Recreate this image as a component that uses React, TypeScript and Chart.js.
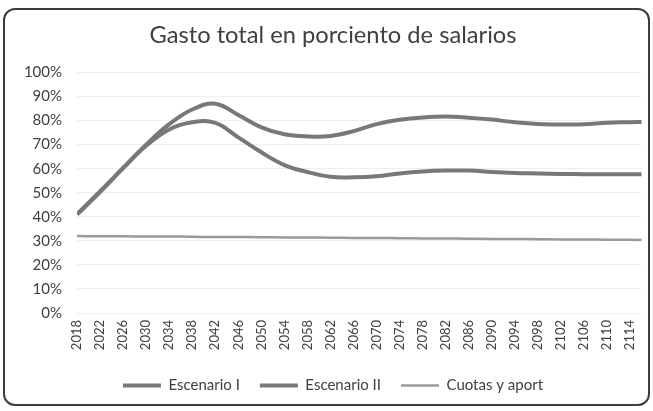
import React, { useEffect, useRef } from "react";
import { Chart, registerables } from "chart.js";

Chart.register(...registerables);

const years = [2018, 2022, 2026, 2030, 2034, 2038, 2042, 2046, 2050, 2054, 2058, 2062, 2066, 2070, 2074, 2078, 2082, 2086, 2090, 2094, 2098, 2102, 2106, 2110, 2114, 2116];
const tickYears = [2018, 2022, 2026, 2030, 2034, 2038, 2042, 2046, 2050, 2054, 2058, 2062, 2066, 2070, 2074, 2078, 2082, 2086, 2090, 2094, 2098, 2102, 2106, 2110, 2114];
const escenarioI = [41, 50.5, 60.3, 70, 78.5, 84.6, 87, 82.3, 77.2, 74.3, 73.4, 73.6, 75.6, 78.5, 80.3, 81.3, 81.7, 81.2, 80.4, 79.3, 78.6, 78.4, 78.5, 79.1, 79.3, 79.4];
const escenarioII = [41, 50.3, 60.2, 69.5, 76.3, 79.3, 79, 73, 66.8, 61.5, 58.6, 56.6, 56.4, 56.8, 58, 58.8, 59.2, 59.2, 58.6, 58.2, 58, 57.8, 57.7, 57.7, 57.7, 57.7];
const cuotas = [32, 31.9, 31.9, 31.8, 31.8, 31.7, 31.6, 31.6, 31.5, 31.4, 31.4, 31.3, 31.2, 31.2, 31.1, 31, 31, 30.9, 30.8, 30.8, 30.7, 30.6, 30.6, 30.5, 30.4, 30.4];
const yTicks = [0, 10, 20, 30, 40, 50, 60, 70, 80, 90, 100];

const FONT = "Lato, 'Noto Sans', sans-serif";

export default function App() {
  const ref = useRef<HTMLCanvasElement | null>(null);
  useEffect(() => {
    if (!ref.current) return;
    const mk = (arr: number[]) => years.map((y, i) => ({ x: y, y: arr[i] }));
    const chart = new Chart(ref.current, {
      type: "line",
      data: {
        datasets: [
          { label: "Escenario I", data: mk(escenarioI), borderColor: "#787878", backgroundColor: "#787878", borderWidth: 4, pointRadius: 0, tension: 0.4, pointStyle: "line" },
          { label: "Escenario II", data: mk(escenarioII), borderColor: "#787878", backgroundColor: "#787878", borderWidth: 4, pointRadius: 0, tension: 0.4, pointStyle: "line" },
          { label: "Cuotas y aport", data: mk(cuotas), borderColor: "#9a9a9a", backgroundColor: "#9a9a9a", borderWidth: 2.5, pointRadius: 0, tension: 0.4, pointStyle: "line" },
        ],
      },
      options: {
        animation: false,
        responsive: false,
        layout: { padding: { top: 11, left: 23, right: 10, bottom: 8 } },
        plugins: {
          title: {
            display: true,
            text: "Gasto total en porciento de salarios",
            color: "#404040",
            font: { family: FONT, size: 23.7, weight: "normal" },
            padding: { top: 10, bottom: 23 },
          },
          legend: {
            position: "bottom",
            labels: {
              usePointStyle: true,
              pointStyleWidth: 38,
              boxHeight: 13,
              color: "#404040",
              font: { family: FONT, size: 15 },
              padding: 20,
            },
          },
          tooltip: { enabled: false },
        },
        scales: {
          x: {
            type: "linear",
            min: 2018,
            max: 2116,
            grid: { display: false, drawTicks: false },
            border: { display: false },
            afterBuildTicks: (s: any) => {
              s.ticks = tickYears.map((v) => ({ value: v }));
            },
            afterFit: (s: any) => {
              s.height = 45;
            },
            ticks: {
              autoSkip: false,
              maxRotation: 90,
              minRotation: 90,
              padding: 7,
              color: "#404040",
              font: { family: FONT, size: 13 },
              callback: (v: any) => String(v),
            },
          },
          y: {
            min: 0,
            max: 100,
            afterBuildTicks: (s: any) => {
              s.ticks = yTicks.map((v) => ({ value: v }));
            },
            afterFit: (s: any) => {
              s.width = 54;
            },
            grid: { color: "#eeeeee", drawTicks: false },
            border: { display: false },
            ticks: {
              padding: 15,
              color: "#404040",
              font: { family: FONT, size: 15 },
              callback: (v: any) => v + "%",
            },
          },
        },
      },
    });
    return () => chart.destroy();
  }, []);

  return (
    <div style={{ position: "fixed", left: 0, top: 0, width: 653, height: 411, background: "#ffffff" }}>
      <canvas ref={ref} width={653} height={411} style={{ position: "absolute", left: 0, top: 0, width: 653, height: 411 }} />
      <div
        style={{
          position: "absolute",
          left: 3,
          top: 8,
          width: 647,
          height: 398,
          boxSizing: "border-box",
          border: "2px solid #3c3c3c",
          borderRadius: 12,
          pointerEvents: "none",
        }}
      />
    </div>
  );
}
